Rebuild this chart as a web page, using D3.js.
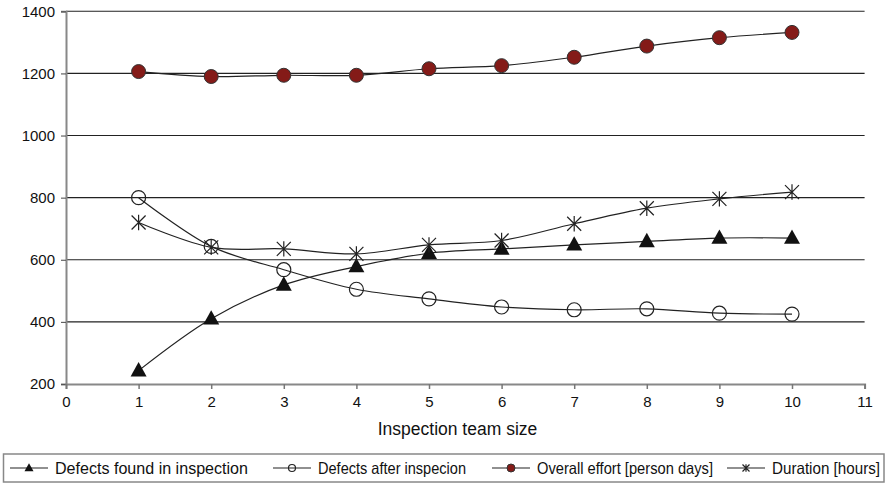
<!DOCTYPE html>
<html>
<head>
<meta charset="utf-8">
<script src="https://cdn.jsdelivr.net/npm/d3@7"></script>
<style>
  html, body { margin: 0; padding: 0; background: #fff; }
  svg { display: block; font-family: "Liberation Sans", Arial, sans-serif; }
</style>
</head>
<body>
<svg id="chart" width="888" height="484"></svg>
<script>
// Team size on the x axis
const teamSize = [1, 2, 3, 4, 5, 6, 7, 8, 9, 10];

// Series values
const defectsFound  = [243, 410, 519, 578, 621, 635, 648, 659, 670, 670];
const defectsAfter  = [800, 643, 568, 505, 474, 448, 439, 442, 428, 425];
const overallEffort = [1206, 1190, 1194, 1194, 1215, 1225, 1252, 1288, 1315, 1332];
const duration      = [720, 640, 635, 619, 648, 662, 716, 766, 796, 818];

// Tick labels
const xTicks = [0, 1, 2, 3, 4, 5, 6, 7, 8, 9, 10, 11];
const yTicks = [200, 400, 600, 800, 1000, 1200, 1400];

const seriesNames = ["Defects found in inspection", "Defects after inspecion",
                     "Overall effort [person days]", "Duration [hours]"];
const xTitle = "Inspection team size";

const svg = d3.select("#chart");
const plotLeft = 66, plotRight = 864.6, plotTop = 11.3, plotBottom = 384;

const x = d3.scaleLinear().domain([0, 11]).range([plotLeft, plotRight]);
const y = d3.scaleLinear().domain([200, 1400]).range([plotBottom, plotTop]);

// Horizontal gridlines
svg.append("g")
  .selectAll("line")
  .data(yTicks.filter(v => v > 200))
  .join("line")
  .attr("x1", plotLeft).attr("x2", plotRight)
  .attr("y1", d => y(d)).attr("y2", d => y(d))
  .attr("stroke", "#222").attr("stroke-width", 1.1);

// Y axis
const yAxis = svg.append("g")
  .attr("transform", `translate(${plotLeft},0)`)
  .call(d3.axisLeft(y).tickValues(yTicks).tickSize(5).tickPadding(6).tickFormat(d3.format("d")));
yAxis.select(".domain").attr("stroke", "#888").attr("stroke-width", 2);
yAxis.selectAll(".tick line").attr("stroke", "#555").attr("stroke-width", 1.1);
yAxis.selectAll("text").attr("font-size", 15).attr("fill", "#111")
  .attr("font-family", "Liberation Sans, Arial, sans-serif");

// X axis
const xAxis = svg.append("g")
  .attr("transform", `translate(0,${plotBottom})`)
  .call(d3.axisBottom(x).tickValues(xTicks).tickSize(5).tickPadding(7).tickFormat(d3.format("d")));
xAxis.select(".domain").attr("stroke", "#888").attr("stroke-width", 2);
xAxis.selectAll(".tick line").attr("stroke", "#777").attr("stroke-width", 1.5);
xAxis.selectAll("text").attr("font-size", 15).attr("fill", "#111")
  .attr("font-family", "Liberation Sans, Arial, sans-serif");

svg.append("text")
  .attr("x", 457.5).attr("y", 435)
  .attr("text-anchor", "middle")
  .attr("font-size", 17.5).attr("fill", "#111")
  .text(xTitle);

// Smoothed series lines
const line = d3.line()
  .x((d, i) => x(teamSize[i]))
  .y(d => y(d))
  .curve(d3.curveCatmullRom.alpha(0.5));

const allSeries = [defectsFound, defectsAfter, overallEffort, duration];
svg.append("g").selectAll("path")
  .data(allSeries)
  .join("path")
  .attr("d", line)
  .attr("fill", "none")
  .attr("stroke", "#222")
  .attr("stroke-width", 1.2);

// Marker shapes
function drawTriangle(g, cx, cy, s) {
  const h = s * 0.9;
  g.append("path")
    .attr("d", `M${cx},${cy - h * 0.6}L${cx + s / 2},${cy + h * 0.4}L${cx - s / 2},${cy + h * 0.4}Z`)
    .attr("fill", "#111");
}
function drawCircle(g, cx, cy, r) {
  g.append("circle").attr("cx", cx).attr("cy", cy).attr("r", r)
    .attr("fill", "none").attr("stroke", "#222").attr("stroke-width", 1.2);
}
function drawDot(g, cx, cy, r) {
  g.append("circle").attr("cx", cx).attr("cy", cy).attr("r", r)
    .attr("fill", "#841b18").attr("stroke", "#333").attr("stroke-width", 1);
}
function drawStar(g, cx, cy, s) {
  g.append("path")
    .attr("d", `M${cx - s},${cy - s}L${cx + s},${cy + s}M${cx - s},${cy + s}L${cx + s},${cy - s}M${cx},${cy - s * 1.1}L${cx},${cy + s * 1.1}`)
    .attr("stroke", "#222").attr("stroke-width", 1.2).attr("fill", "none");
}

const markers = svg.append("g");
defectsFound.forEach((v, i) => drawTriangle(markers, x(teamSize[i]), y(v), 16));
defectsAfter.forEach((v, i) => drawCircle(markers, x(teamSize[i]), y(v), 7));
overallEffort.forEach((v, i) => drawDot(markers, x(teamSize[i]), y(v), 7));
duration.forEach((v, i) => drawStar(markers, x(teamSize[i]), y(v), 7));

// Legend (narrow sans face, so each label is fitted to its slot)
const lg = svg.append("g");
lg.append("rect").attr("x", 3.5).attr("y", 454).attr("width", 880.5).attr("height", 28)
  .attr("fill", "#fff").attr("stroke", "#888").attr("stroke-width", 1.5);

const legendItems = [
  { tx: 55,  w: 193, text: seriesNames[0], draw: (g, cx, cy) => drawTriangle(g, cx, cy, 9) },
  { tx: 318, w: 148, text: seriesNames[1], draw: (g, cx, cy) => drawCircle(g, cx, cy, 3.5) },
  { tx: 537, w: 176, text: seriesNames[2], draw: (g, cx, cy) => drawDot(g, cx, cy, 4) },
  { tx: 772, w: 108, text: seriesNames[3], draw: (g, cx, cy) => drawStar(g, cx, cy, 3.5) }
];
legendItems.forEach(it => {
  const cy = 468;
  lg.append("line").attr("x1", it.tx - 45).attr("x2", it.tx - 7)
    .attr("y1", cy).attr("y2", cy).attr("stroke", "#222").attr("stroke-width", 1.2);
  it.draw(lg, it.tx - 26, cy);
  lg.append("text").attr("x", it.tx).attr("y", cy + 6)
    .attr("font-size", 16.5).attr("fill", "#111")
    .attr("textLength", it.w).attr("lengthAdjust", "spacingAndGlyphs")
    .text(it.text);
});
</script>
</body>
</html>
